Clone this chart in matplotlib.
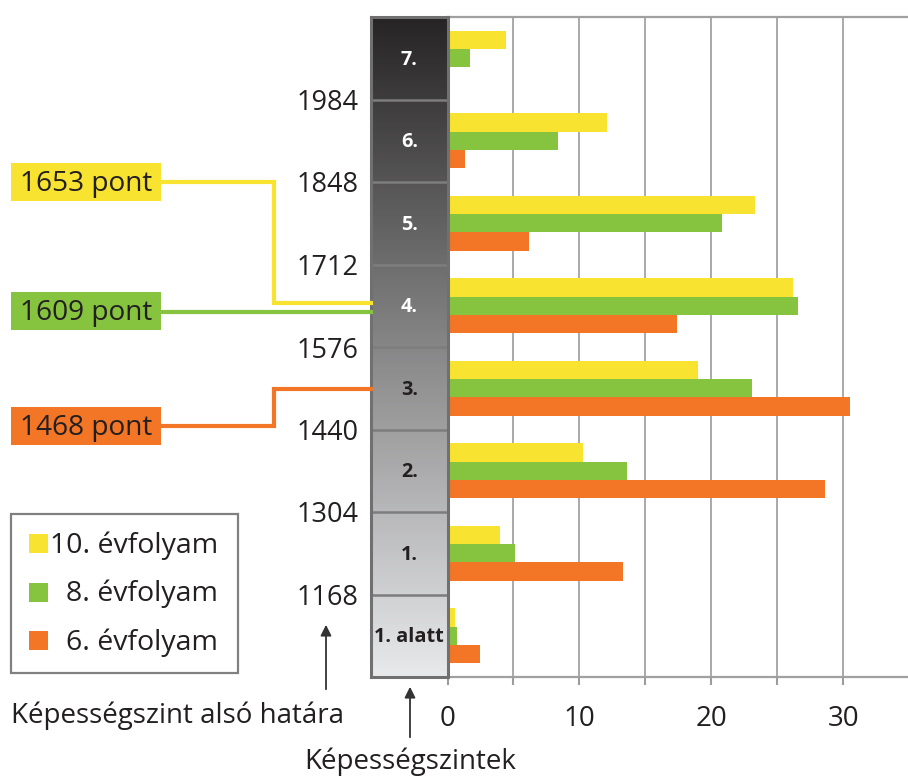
import matplotlib
matplotlib.use("Agg")
import matplotlib.pyplot as plt
import numpy as np
from matplotlib.patches import Rectangle
from matplotlib.lines import Line2D
from matplotlib.colors import LinearSegmentedColormap

plt.rcParams['font.family'] = ['Open Sans', 'DejaVu Sans']

# ---- data ----
levels = ["1. alatt", "1.", "2.", "3.", "4.", "5.", "6.", "7."]
boundaries = [1168, 1304, 1440, 1576, 1712, 1848, 1984]
series = ["10. évfolyam", "8. évfolyam", "6. évfolyam"]
grade10 = [0.6, 4.0, 10.3, 19.0, 26.2, 23.3, 12.1, 4.4]
grade8 = [0.7, 5.1, 13.6, 23.1, 26.6, 20.8, 8.4, 1.7]
grade6 = [2.5, 13.3, 28.6, 30.5, 17.4, 6.2, 1.3, 0.2]
mean_labels = ["1653 pont", "1609 pont", "1468 pont"]
xtick_labels = ["0", "", "10", "", "20", "", "30"]
colors = ["#f7e330", "#86c440", "#f37526"]
TXT = "#231f20"

W, H = 908, 782
fig = plt.figure(figsize=(W / 100, H / 100), dpi=100)


def fx(x):
    return x / W


def fy(y):
    return 1 - y / H


# main bar axes
ax = fig.add_axes([fx(447.5), fy(677), fx(908) - fx(447.5), fy(17) - fy(677)])
col = fig.add_axes([fx(371), fy(677), fx(447.5) - fx(371), fy(17) - fy(677)])

y = np.arange(len(levels))
h = 0.223
for vals, off, c in zip([grade10, grade8, grade6], [h, 0, -h], colors):
    ax.barh(y + off, vals, height=h, color=c, lw=0, zorder=3)

ax.set_ylim(-0.5, len(levels) - 0.5)
ax.set_xlim(0, 34.9)
ax.set_yticks([])
ax.set_xticks(np.arange(0, 35, 5))
ax.set_xticklabels(xtick_labels, fontsize=20, color=TXT)
ax.tick_params(axis='x', length=6, width=1.5, color='#9c9c9c', pad=14)
ax.grid(axis='x', color='#a3a3a3', lw=1.3, zorder=0)
for s in ['right', 'left']:
    ax.spines[s].set_visible(False)
for s in ['top', 'bottom']:
    ax.spines[s].set_color('#a0a0a0')
    ax.spines[s].set_linewidth(1.6)

# level column with gradient
cmap = LinearSegmentedColormap.from_list('g', [(232/255, 233/255, 235/255), (38/255, 36/255, 36/255)])
grad = np.linspace(0, 1, 400).reshape(-1, 1)
col.imshow(grad, extent=[0, 1, -0.5, len(levels) - 0.5], aspect='auto', cmap=cmap, origin='lower')
col.set_xlim(0, 1)
col.set_ylim(-0.5, len(levels) - 0.5)
for b in range(len(boundaries)):
    col.axhline(b + 0.5, color='#7d7d7d', lw=1.8)
for s in col.spines.values():
    s.set_color('#707070')
    s.set_linewidth(2.2)
col.set_xticks([])
col.set_yticks(np.arange(len(boundaries)) + 0.5)
col.set_yticklabels([str(b) for b in boundaries], fontsize=19.5, color=TXT)
col.tick_params(axis='y', length=0, pad=9)
for i, lab in enumerate(levels):
    col.text(0.5, i - 0.02, lab, ha='center', va='center', fontsize=14.3, fontweight='bold',
             color='white' if i >= 4 else TXT)

# legend (manual)
fig.add_artist(Rectangle((fx(11), fy(673)), fx(238) - fx(11), fy(514) - fy(673),
                         transform=fig.transFigure, fill=False, ec='#808080', lw=1.6))
for k, (name, c) in enumerate(zip(series, colors)):
    yc = 543.5 + 48.5 * k
    fig.add_artist(Rectangle((fx(29), fy(yc + 9.5)), fx(48) - fx(29), fy(yc - 9.5) - fy(yc + 9.5),
                             transform=fig.transFigure, color=c, lw=0))
    fig.text(fx(218), fy(yc + 2), name, ha='right', va='center', fontsize=20.5, color=TXT)

# mean-score labels and connectors
box_centers = [182, 311, 426]
paths = [
    [(161, 182), (274, 182), (274, 303), (371, 303)],
    [(161, 311.5), (371, 311.5)],
    [(161, 426), (274, 426), (274, 389), (371, 389)],
]
for lab, c, yc, pth in zip(mean_labels, colors, box_centers, paths):
    fig.add_artist(Rectangle((fx(11), fy(yc + 19)), fx(161) - fx(11), fy(yc - 19) - fy(yc + 19),
                             transform=fig.transFigure, color=c, lw=0))
    fig.text(fx(20), fy(yc + 2), lab, ha='left', va='center', fontsize=20.2, color=TXT)
    xs = [fx(p[0]) for p in pth]
    ys = [fy(p[1]) for p in pth]
    fig.add_artist(Line2D(xs, ys, transform=fig.transFigure, color=c, lw=3,
                          solid_joinstyle='miter'))

# arrows and axis captions
ax.annotate('', xy=(326, H - 622), xytext=(326, H - 692), xycoords='figure pixels',
            textcoords='figure pixels',
            arrowprops=dict(arrowstyle='-|>', color='#333333', lw=1.3, mutation_scale=16))
ax.annotate('', xy=(410, H - 684), xytext=(410, H - 740), xycoords='figure pixels',
            textcoords='figure pixels',
            arrowprops=dict(arrowstyle='-|>', color='#333333', lw=1.3, mutation_scale=16))
fig.text(fx(11), fy(716), "Képességszint alsó határa", ha='left', va='center', fontsize=20, color=TXT)
fig.text(fx(410), fy(762), "Képességszintek", ha='center', va='center', fontsize=20, color=TXT)

fig.savefig('out.png', dpi=100)
